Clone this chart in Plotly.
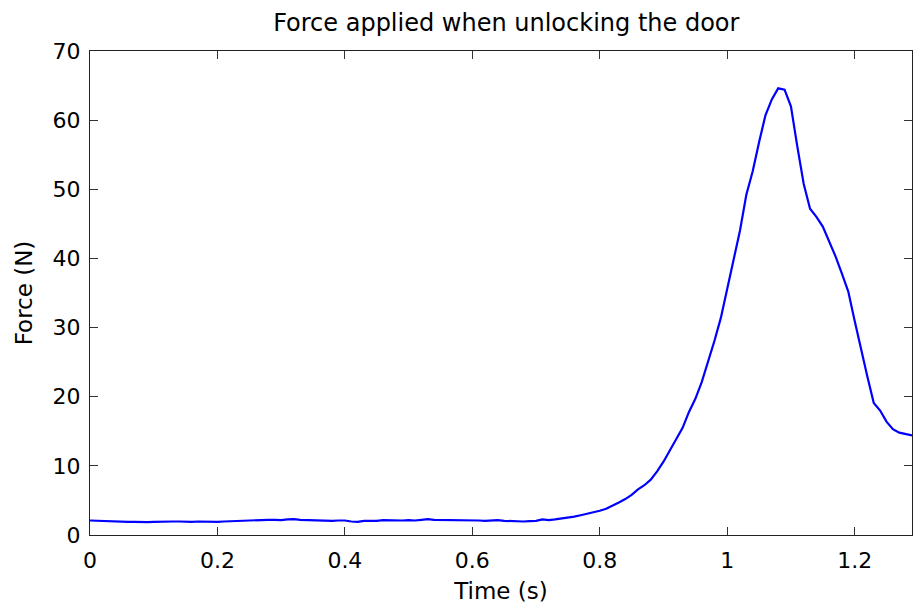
import numpy as np
import plotly.graph_objects as go

# Force samples (N), one every 10 ms starting at t = 0 s
sample_step_s = 0.01
force_n = [
    2.10, 2.05, 2.00, 1.95, 2.00, 1.95, 1.90, 1.90, 1.85, 1.85,
    1.90, 1.95, 1.90, 1.95, 1.95, 1.90, 1.90, 1.95, 1.90, 1.95,
    1.90, 1.95, 2.00, 2.05, 2.00, 2.10, 2.15, 2.15, 2.20, 2.20,
    2.15, 2.25, 2.30, 2.20, 2.15, 2.20, 2.15, 2.10, 2.05, 2.10,
    2.10, 1.95, 1.90, 2.05, 2.00, 2.05, 2.15, 2.10, 2.05, 2.10,
    2.15, 2.10, 2.20, 2.30, 2.20, 2.20, 2.15, 2.15, 2.20, 2.15,
    2.20, 2.10, 2.05, 2.10, 2.15, 2.05, 2.00, 2.00, 1.95, 2.00,
    2.05, 2.25, 2.15, 2.25, 2.35, 2.45, 2.65, 2.85, 3.05, 3.30,
    3.50, 3.80, 4.20, 4.70, 5.20, 5.80, 6.60, 7.20, 8.00, 9.20,
    10.6, 12.3, 14.0, 15.5, 17.8, 19.7, 22.1, 25.0, 28.1, 31.4,
    35.6, 40.0, 44.0, 49.2, 52.6, 56.8, 60.7, 63.0, 64.6, 64.4,
    62.0, 56.2, 50.8, 47.2, 46.0, 44.6, 42.5, 40.3, 37.8, 35.2,
    31.0, 26.8, 22.9, 19.1, 18.0, 16.4, 15.3, 14.8, 14.6, 14.4,
]
time_s = np.round(np.arange(len(force_n)) * sample_step_s, 2)

x_ticks = [0, 0.2, 0.4, 0.6, 0.8, 1.0, 1.2]
x_tick_labels = ["0", "0.2", "0.4", "0.6", "0.8", "1", "1.2"]
y_ticks = [0, 10, 20, 30, 40, 50, 60, 70]
y_tick_labels = ["0", "10", "20", "30", "40", "50", "60", "70"]

FONT = "DejaVu Sans"
fig = go.Figure()
fig.add_trace(go.Scatter(
    x=time_s, y=force_n, mode="lines",
    line=dict(color="#0000ff", width=2.2),
    hoverinfo="skip", showlegend=False,
))

axis_common = dict(
    showline=True, linecolor="#222222", linewidth=1,
    mirror="ticks", ticks="inside", ticklen=8, tickwidth=1,
    tickcolor="#333333", showgrid=False, zeroline=False,
    tickfont=dict(family=FONT, size=22, color="black"),
)

fig.update_layout(
    width=913, height=610,
    margin=dict(l=90, r=1, t=51, b=75),
    paper_bgcolor="white", plot_bgcolor="white",
    title=dict(
        text="Force applied when unlocking the door",
        x=0.5545, xanchor="center", y=0.963, yanchor="middle",
        font=dict(family=FONT, size=24, color="black"),
    ),
    xaxis=dict(
        range=[0, 1.29], tickvals=x_ticks, ticktext=x_tick_labels,
        title=dict(text="Time (s)", font=dict(family=FONT, size=23, color="black"), standoff=10),
        ticklabelstandoff=6,
        **axis_common,
    ),
    yaxis=dict(
        range=[0, 70], tickvals=y_ticks, ticktext=y_tick_labels,
        title=dict(text="Force (N)", font=dict(family=FONT, size=23, color="black"), standoff=13),
        ticklabelstandoff=4,
        **axis_common,
    ),
)

fig.write_html("out.html")
